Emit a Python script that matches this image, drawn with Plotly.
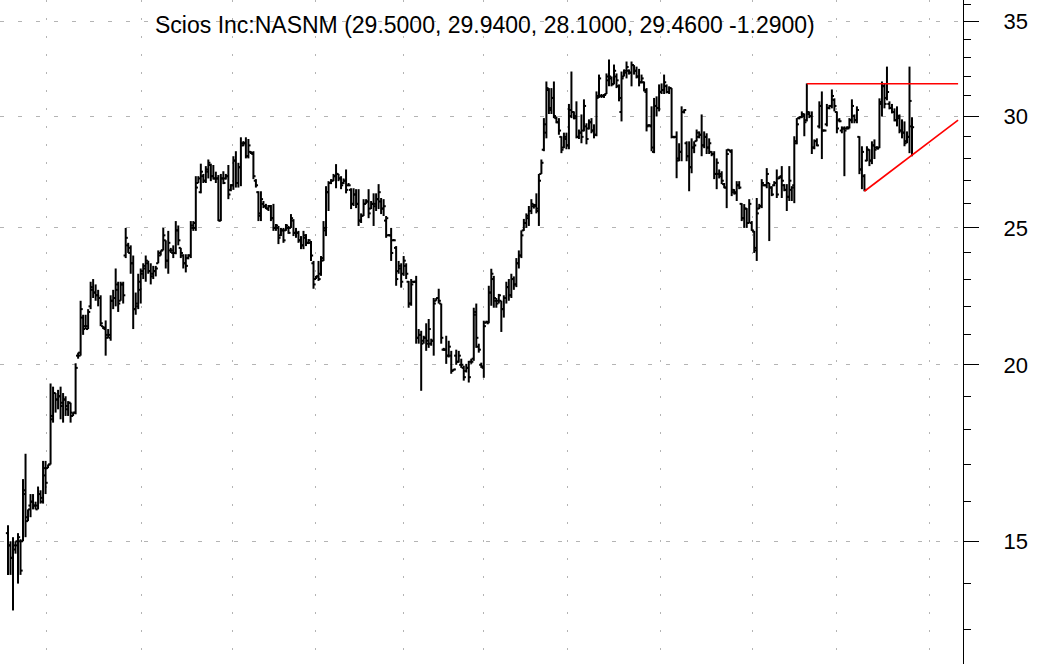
import plotly.graph_objs as go

# Scios Inc daily bars (oldest first)
opens = [
    15.2, 14.9, 14.6, 14.8, 14.9, 15.0, 15.0, 16.2, 15.5, 15.9,
    16.0, 15.9, 15.9, 16.2, 16.0, 16.7, 16.9, 17.0, 18.4, 19.1,
    18.9, 19.0, 18.8, 18.9, 18.6, 18.8, 18.4, 18.5, 20.3, 20.3,
    21.6, 21.3, 21.2, 22.0, 22.6, 22.5, 22.4, 22.3, 21.3, 21.2, 20.9,
    20.9, 22.2, 22.3, 22.8, 22.2, 22.8, 23.9, 24.3, 24.2, 23.6, 21.9, 22.0,
    22.6, 23.3, 23.5, 23.6, 23.3, 23.2, 23.3, 23.6, 23.9, 24.1, 24.5,
    23.7, 24.1, 24.0, 24.0, 24.9, 24.2, 23.9, 23.6, 23.8, 23.9,
    25.0, 25.0, 26.9, 26.5, 27.2, 27.0, 27.4, 27.7, 27.2, 27.1, 27.1,
    25.3, 27.1, 27.1, 27.2, 26.6, 26.8, 27.9, 26.9, 27.6, 28.6,
    28.7, 28.1, 28.3, 28.2, 27.0, 26.5, 25.6, 26.0, 25.9, 25.8,
    25.9, 25.4, 25.0, 25.0, 24.7, 24.9, 24.9, 25.0, 25.0, 25.3, 24.8,
    24.8, 24.5, 24.3, 24.6, 24.4, 24.4, 23.6, 23.0, 23.1, 23.2,
    23.7, 24.9, 26.5, 26.9, 27.0, 27.2, 27.3, 27.1, 26.9, 27.0,
    26.8, 26.6, 26.0, 26.4, 26.0, 25.3, 25.5, 26.0, 26.1, 25.8,
    26.0, 26.0, 26.2, 26.1, 25.8, 25.3, 24.7, 24.7, 24.5,
    24.2, 23.3, 23.4, 23.2, 23.5, 22.9, 22.1, 22.9, 22.9, 20.9,
    21.0, 20.8, 20.9, 20.8, 20.7, 20.8, 22.2, 22.3, 22.1, 20.5,
    20.5, 20.3, 20.3, 19.82, 20.3, 20.1, 20.0, 19.9, 19.8, 19.9,
    20.1, 20.2, 21.8, 20.6, 20.0, 19.9, 21.42, 21.4, 22.5, 23.0,
    22.2, 22.2, 22.2, 21.9, 22.3, 22.7, 22.4, 23.0, 22.8, 23.6,
    23.9, 24.9, 25.2, 25.4, 25.7, 25.9, 25.9, 25.7, 27.3, 28.4,
    29.2, 31.3, 30.3, 30.9, 29.9, 29.7, 29.0, 28.5, 28.9, 28.6,
    30.0, 30.2, 30.0, 29.0, 29.2, 29.3, 29.5, 29.4, 29.7,
    29.3, 29.1, 31.0, 31.0, 31.0, 31.1, 31.8, 31.9, 31.6, 32.0,
    31.5, 30.2, 32.0, 32.2, 32.3, 32.2, 32.6, 32.3, 32.0, 31.7,
    31.7, 31.2, 29.55, 29.5, 28.3, 30.5, 30.4, 31.2, 31.3, 31.5,
    31.2, 31.4, 29.0, 29.0, 28.0, 28.3, 30.2, 28.7, 28.1, 27.6,
    28.5, 28.8, 29.0, 29.1, 28.6, 29.0, 28.5, 28.3, 28.2,
    27.3, 27.3, 27.2, 26.85, 26.7, 28.4, 28.3, 26.6, 26.5,
    26.8, 26.0, 25.4, 25.8, 25.2, 25.2, 24.85, 24.1, 25.8,
    25.9, 26.8, 26.8, 26.9, 26.7, 26.8, 26.9, 27.1, 27.2, 26.8,
    26.6, 26.3, 26.6, 26.8, 28.8, 29.9, 29.95, 30.0, 29.8, 30.1,
    30.0, 28.5, 28.8, 29.5, 30.5, 29.3, 29.6, 30.4, 30.5, 30.8,
    30.2, 29.8, 29.3, 29.4, 29.4, 29.4, 29.8, 30.0, 29.8, 29.0,
    27.5, 27.2, 27.9, 28.4, 27.9, 28.6, 28.5, 28.5, 30.6, 31.5,
    30.9, 30.6, 30.4, 30.2, 29.8, 29.9, 29.3, 29.2, 28.8, 29.0,
    29.50,
]
highs = [
    15.4, 15.0, 15.1, 15.0, 15.2, 15.05, 16.6, 17.3, 15.8, 16.2,
    16.2, 16.0, 16.4, 16.3, 17.1, 17.1, 17.0, 19.4, 19.3, 19.1,
    19.2, 19.3, 19.1, 19.0, 18.85, 18.8, 18.5, 20.05, 20.4, 22.2,
    21.7, 21.7, 21.9, 22.9, 23.0, 22.8, 22.6, 22.4, 21.3, 21.5, 21.2,
    22.4, 22.6, 23.4, 22.9, 22.9, 22.9, 25.0, 24.4, 24.3, 23.9, 22.5, 23.2,
    23.4, 23.6, 23.9, 23.7, 23.6, 23.5, 23.5, 24.1, 24.1, 25.0, 24.5,
    24.88, 24.2, 24.3, 25.28, 25.1, 24.2, 23.95, 23.95, 23.95, 25.28,
    25.28, 27.2, 27.2, 27.76, 27.3, 27.65, 27.95, 27.76, 27.7, 27.4, 27.25,
    27.3, 27.42, 27.3, 27.7, 26.85, 28.1, 28.33, 27.8, 28.98, 28.8,
    28.98, 28.9, 28.33, 28.33, 27.07, 26.54, 26.54, 26.12, 26.0, 25.95,
    25.95, 26.0, 25.16, 25.08, 25.0, 25.0, 25.16, 25.08, 25.57, 25.36, 25.0,
    24.88, 24.67, 24.88, 24.75, 24.55, 24.47, 23.69, 23.12, 23.69, 23.88,
    25.28, 26.76, 26.98, 27.07, 27.3, 27.74, 27.3, 27.2, 27.1, 27.5,
    26.9, 26.67, 26.67, 26.63, 26.63, 25.6, 26.2, 26.2, 26.63, 26.12,
    26.45, 26.45, 26.85, 26.25, 26.2, 25.49, 24.75, 25.0, 24.55,
    24.27, 23.69, 23.6, 23.88, 23.6, 22.93, 23.0, 22.93, 23.12, 21.2,
    21.14, 20.97, 21.4, 21.55, 20.87, 22.3, 22.3, 22.64, 22.1, 20.56,
    20.97, 20.8, 20.46, 19.87, 20.5, 20.46, 20.2, 19.97, 20.03, 20.13,
    20.2, 21.95, 22.1, 20.7, 20.07, 21.49, 21.49, 22.75, 23.39, 23.12,
    22.3, 22.45, 22.2, 22.4, 22.9, 23.0, 23.2, 23.1, 23.8, 24.1,
    24.9, 25.37, 25.6, 25.91, 26.2, 26.0, 26.45, 27.3, 27.95, 29.9,
    31.74, 31.4, 31.4, 31.74, 29.98, 29.9, 29.03, 29.2, 29.2, 30.6,
    32.26, 30.23, 30.73, 29.35, 30.08, 30.83, 29.65, 29.84, 29.9,
    29.6, 31.23, 32.1, 31.1, 31.1, 32.16, 32.9, 32.0, 32.63, 32.16,
    31.59, 32.26, 32.37, 32.79, 32.37, 32.79, 32.6, 32.52, 32.4, 32.1,
    31.74, 31.4, 29.6, 30.48, 30.9, 30.98, 31.59, 31.64, 32.1, 31.59,
    31.49, 31.4, 29.03, 29.26, 28.7, 30.48, 30.33, 28.79, 28.79, 28.93,
    28.79, 29.35, 29.26, 30.08, 29.26, 29.17, 28.93, 28.33, 28.33,
    28.0, 27.5, 27.42, 26.9, 28.42, 28.42, 28.42, 26.63, 26.98,
    26.98, 26.03, 25.99, 25.82, 26.2, 25.28, 24.88, 26.25, 26.0,
    27.07, 26.85, 27.56, 26.9, 26.76, 26.98, 27.5, 27.2, 27.65, 26.85,
    26.85, 27.65, 26.76, 29.03, 29.9, 29.98, 30.23, 30.13, 31.64, 30.23,
    30.23, 28.88, 28.93, 30.73, 31.23, 29.35, 30.6, 30.55, 31.33, 30.88,
    30.23, 29.9, 29.5, 29.5, 29.5, 29.9, 30.83, 30.08, 30.48, 29.03,
    28.56, 27.29, 28.56, 28.42, 28.79, 28.88, 28.56, 30.88, 31.74, 31.64,
    32.52, 30.73, 30.6, 30.38, 30.48, 30.08, 29.84, 29.74, 29.26, 32.52,
    29.94,
]
lows = [
    14.2, 14.2, 13.4, 14.7, 14.0, 14.2, 15.0, 15.1, 15.5, 15.6,
    15.8, 15.8, 15.8, 15.95, 15.95, 16.2, 16.9, 17.0, 18.2, 18.5,
    18.6, 18.3, 18.2, 18.4, 18.4, 18.2, 18.4, 18.45, 20.2, 20.3,
    21.0, 21.2, 21.2, 21.9, 22.3, 22.2, 22.0, 21.3, 21.2, 20.3, 20.9,
    20.8, 21.9, 22.0, 21.8, 22.2, 22.1, 23.8, 24.0, 23.2, 21.2, 21.7, 21.9,
    22.1, 23.0, 22.9, 23.2, 22.8, 23.0, 23.1, 23.6, 23.9, 24.1, 23.4,
    23.2, 24.0, 23.8, 23.95, 24.3, 23.8, 23.4, 23.25, 23.75, 23.8,
    24.88, 24.88, 26.9, 26.45, 26.9, 26.9, 27.1, 26.98, 27.05, 26.9, 25.28,
    25.28, 26.85, 27.05, 26.2, 26.54, 26.6, 26.7, 26.7, 26.76, 28.56,
    28.0, 28.0, 28.2, 27.07, 26.7, 25.28, 25.28, 25.82, 25.78, 25.7,
    25.28, 24.88, 24.88, 24.35, 24.67, 24.4, 24.88, 24.76, 25.0, 24.67, 24.6,
    24.4, 24.15, 24.15, 24.27, 24.35, 23.69, 22.64, 23.0, 22.93, 23.12,
    23.69, 24.67, 25.7, 26.85, 26.98, 26.67, 26.98, 26.63, 26.85, 26.45,
    26.76, 25.78, 25.91, 25.82, 25.08, 25.2, 25.49, 26.0, 25.4, 25.78,
    25.08, 25.7, 25.78, 25.57, 25.49, 24.6, 24.67, 23.69, 24.47,
    22.75, 23.2, 22.68, 23.12, 23.0, 21.95, 22.02, 22.85, 20.7, 20.7,
    19.17, 20.7, 20.46, 20.56, 20.63, 20.3, 22.2, 22.1, 20.7, 20.46,
    20.03, 20.24, 19.71, 19.81, 20.0, 20.07, 19.9, 19.49, 19.75, 19.43,
    20.03, 20.13, 20.56, 20.4, 19.9, 19.58, 21.4, 21.4, 22.02, 21.95,
    21.95, 22.1, 21.1, 21.6, 22.1, 22.2, 22.3, 22.6, 22.7, 23.4,
    23.8, 24.88, 25.0, 25.08, 25.57, 25.8, 25.6, 25.08, 27.3, 28.33,
    28.93, 30.1, 30.1, 29.9, 29.65, 29.1, 28.24, 28.47, 28.42, 28.42,
    29.9, 29.84, 28.93, 28.9, 28.7, 29.26, 28.65, 29.35, 29.17,
    28.93, 29.03, 30.9, 30.9, 30.9, 31.1, 31.49, 31.49, 31.59, 31.4,
    30.73, 29.74, 32.0, 31.9, 32.1, 31.49, 32.1, 31.9, 31.49, 31.64,
    31.23, 29.26, 29.5, 28.33, 28.24, 29.98, 30.23, 31.1, 31.1, 31.13,
    31.1, 28.93, 28.93, 27.11, 27.87, 27.87, 30.13, 27.87, 26.54, 27.33,
    28.24, 28.79, 28.93, 28.1, 28.47, 28.2, 28.2, 28.1, 27.07,
    26.63, 27.1, 26.85, 26.67, 25.82, 28.33, 26.33, 26.4, 26.12,
    26.63, 25.28, 25.0, 25.0, 25.2, 24.88, 24.0, 23.69, 25.78,
    25.82, 26.76, 26.67, 24.47, 26.33, 26.76, 26.25, 27.07, 26.25, 26.54,
    25.7, 26.12, 26.12, 26.03, 28.65, 29.84, 29.9, 29.03, 29.74, 29.9,
    28.2, 28.42, 28.56, 29.4, 27.97, 29.26, 29.5, 30.33, 30.38, 30.23,
    29.17, 29.7, 29.17, 27.2, 29.35, 29.4, 29.65, 29.65, 29.65, 27.29,
    26.63, 26.54, 27.87, 27.65, 27.74, 27.97, 28.42, 28.47, 29.98, 30.38,
    30.78, 30.33, 30.13, 29.74, 29.5, 29.17, 28.93, 28.56, 28.7, 28.24,
    28.10,
]
closes = [
    14.9, 14.6, 14.9, 15.0, 15.1, 14.3, 16.3, 15.6, 15.8, 16.0,
    15.9, 15.8, 16.2, 16.1, 16.9, 16.5, 17.0, 18.3, 19.1, 18.9,
    19.0, 18.7, 18.9, 18.7, 18.8, 18.5, 18.5, 19.9, 20.4, 21.9,
    21.2, 21.3, 21.8, 22.7, 22.5, 22.4, 22.3, 21.4, 21.25, 21.0, 21.0,
    22.2, 22.3, 22.6, 22.1, 22.8, 22.4, 24.6, 24.0, 23.6, 21.9, 22.1, 22.9,
    23.2, 23.4, 23.7, 23.3, 23.1, 23.3, 23.4, 24.0, 24.1, 24.7, 23.7,
    24.4, 24.1, 24.0, 24.9, 24.5, 24.0, 23.6, 23.5, 23.9, 25.1,
    25.2, 26.7, 27.1, 27.4, 27.0, 27.5, 27.8, 27.2, 27.1, 27.1, 25.3,
    27.1, 26.9, 27.2, 26.4, 26.8, 27.9, 26.9, 27.6, 28.7, 28.7,
    28.1, 28.6, 28.25, 27.2, 26.8, 25.5, 26.2, 25.9, 25.8, 25.9,
    25.4, 25.0, 25.1, 24.6, 24.9, 24.5, 25.1, 24.8, 25.4, 24.8, 24.8,
    24.5, 24.3, 24.7, 24.4, 24.5, 23.9, 22.8, 23.1, 23.0, 23.8,
    25.0, 26.5, 26.9, 27.0, 27.2, 27.3, 27.1, 26.8, 27.0, 26.6,
    26.8, 26.0, 26.4, 26.0, 25.3, 25.5, 26.0, 26.1, 25.6, 26.0,
    25.9, 26.2, 26.5, 25.8, 25.9, 25.4, 24.7, 24.0, 24.5,
    23.0, 23.5, 22.9, 23.7, 23.2, 22.1, 22.8, 22.9, 20.9, 21.0,
    20.7, 20.9, 20.7, 21.2, 20.8, 22.1, 22.3, 22.2, 20.9, 20.5,
    20.3, 20.6, 19.8, 19.85, 20.1, 20.3, 20.0, 19.6, 19.9, 19.6,
    20.1, 21.7, 20.9, 20.5, 19.95, 21.3, 21.45, 22.5, 23.2, 22.3,
    22.1, 22.4, 21.9, 22.3, 22.7, 22.4, 23.0, 22.8, 23.6, 23.9,
    24.7, 25.2, 25.5, 25.7, 26.0, 25.95, 25.8, 27.0, 27.8, 29.6,
    31.4, 30.4, 30.9, 30.0, 29.7, 29.3, 28.4, 29.0, 28.6, 30.3,
    30.2, 29.9, 29.0, 29.2, 29.0, 30.5, 28.9, 29.7, 29.3,
    29.1, 30.9, 31.9, 31.0, 31.05, 32.0, 32.0, 31.6, 32.3, 31.8,
    30.9, 31.9, 32.3, 32.5, 32.2, 32.6, 32.3, 32.0, 31.7, 31.9,
    31.3, 29.5, 29.55, 28.5, 30.5, 30.4, 31.2, 31.3, 31.7, 31.2,
    31.4, 29.0, 29.0, 27.9, 28.3, 30.2, 30.3, 28.1, 27.6, 28.5,
    28.6, 29.2, 29.1, 28.6, 29.0, 28.5, 28.7, 28.2, 27.3,
    27.8, 27.3, 27.0, 26.7, 28.2, 28.35, 26.5, 26.45, 26.8,
    26.7, 25.4, 25.8, 25.2, 26.0, 24.9, 24.2, 25.6, 25.9,
    26.9, 26.8, 27.3, 26.7, 26.4, 26.9, 26.4, 27.15, 27.0, 26.6,
    26.3, 27.0, 26.7, 28.7, 29.6, 29.95, 30.1, 29.7, 30.2, 30.0,
    28.5, 28.8, 28.6, 30.5, 29.3, 29.3, 30.4, 30.5, 31.0, 30.5,
    29.4, 29.75, 29.4, 29.3, 29.45, 29.8, 30.5, 29.8, 30.3, 27.5,
    28.3, 26.6, 28.4, 27.9, 28.6, 28.4, 28.45, 30.7, 31.5, 30.6,
    31.2, 30.4, 30.2, 29.8, 30.0, 29.3, 29.2, 28.7, 29.0, 30.75,
    29.46,
]
assert len(opens) == len(highs) == len(lows) == len(closes)

n_bars = len(closes)

# trend lines drawn on the chart (bar index, price)
resistance_x = [319, 379.4]
resistance_y = [31.62, 31.62]
support_x = [342, 379.4]
support_y = [26.54, 29.8]

# bar index of the vertical (dotted) grid lines
grid_idx = [15.2, 53.5, 89.5, 122.6, 158.1, 189.7, 223.6, 260.4, 297.5, 330.7, 367.8]

price_ticks = [15, 20, 25, 30, 35]
minor_ticks = [13, 14, 16, 17, 18, 19, 21, 22, 23, 24, 26, 27, 28, 29, 31, 32, 33, 34, 36]

title_text = "Scios Inc:NASNM (29.5000, 29.9400, 28.1000, 29.4600 -1.2900)"

W, H = 1061, 664
plot_w = 963
step = 904 / (n_bars - 1)  # pixels between bars
tick = 0.85  # open/close tick length, in bars

# classic bar chart: high-low stem, open tick left, close tick right
bx, by = [], []
for i in range(n_bars):
    bx += [i, i, None, i - tick, i, None, i, i + tick, None]
    by += [lows[i], highs[i], None, opens[i], opens[i], None, closes[i], closes[i], None]

fig = go.Figure()
fig.add_trace(go.Scatter(x=bx, y=by, mode="lines",
                         line=dict(color="black", width=2),
                         hoverinfo="skip", showlegend=False))
fig.add_trace(go.Scatter(x=resistance_x, y=resistance_y, mode="lines",
                         line=dict(color="#ff0000", width=1.6),
                         hoverinfo="skip", showlegend=False))
fig.add_trace(go.Scatter(x=support_x, y=support_y, mode="lines",
                         line=dict(color="#ff0000", width=1.6),
                         hoverinfo="skip", showlegend=False))

fig.update_layout(
    width=W, height=H,
    margin=dict(l=0, r=W - plot_w, t=0, b=0),
    paper_bgcolor="white", plot_bgcolor="white",
    font=dict(family="Liberation Sans, Arial, sans-serif", color="black"),
    showlegend=False,
    xaxis=dict(
        range=[-8 / step, (plot_w - 8) / step],
        tickmode="array", tickvals=grid_idx,
        showticklabels=False, ticks="",
        showgrid=True, gridcolor="#b4b4b4", gridwidth=1, griddash="2px,16px",
        zeroline=False, showline=False,
    ),
    yaxis=dict(
        type="log", side="right",
        range=[1.0892, 1.5593],
        tickmode="array", tickvals=price_ticks, ticktext=[str(v) for v in price_ticks],
        ticks="outside", ticklen=15, tickwidth=1.3, tickcolor="black",
        ticklabelstandoff=20,
        tickfont=dict(size=22, color="black"),
        minor=dict(tickvals=minor_ticks, ticks="outside", ticklen=7,
                   tickwidth=1.3, tickcolor="black", showgrid=False),
        showline=True, linecolor="black", linewidth=1,
        showgrid=True, gridcolor="#b4b4b4", gridwidth=1, griddash="4px,14px",
        zeroline=False,
    ),
    annotations=[dict(
        text=title_text, xref="paper", yref="paper",
        x=485 / plot_w, y=1 - 25 / H, xanchor="center", yanchor="middle",
        showarrow=False, font=dict(size=23, color="black"),
    )],
)

fig.write_html("out.html", config={"displayModeBar": False},
               post_script="document.body.style.margin='0';")
